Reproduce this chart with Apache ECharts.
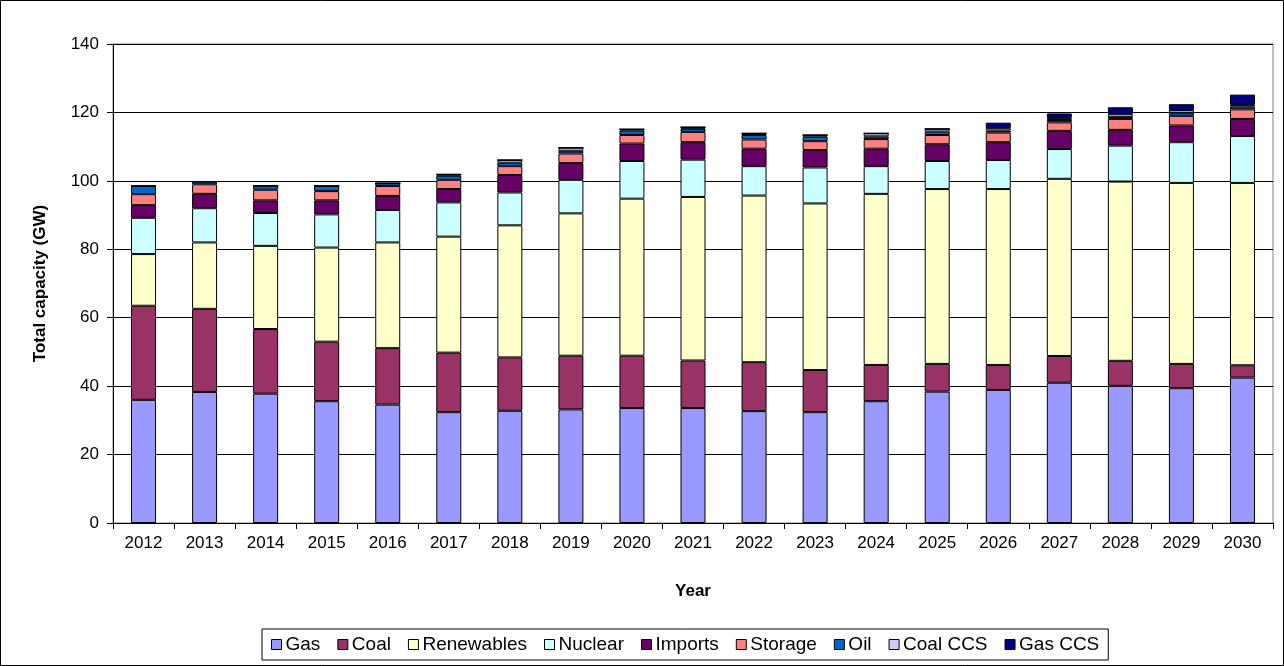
<!DOCTYPE html>
<html>
<head>
<meta charset="utf-8">
<script src="https://cdn.jsdelivr.net/npm/echarts@6/dist/echarts.min.js"></script>
<style>
html,body{margin:0;padding:0;background:#fff;}
#chart{width:1284px;height:666px;}
</style>
</head>
<body>
<div id="chart"></div>
<script>
var years = ['2012','2013','2014','2015','2016','2017','2018','2019','2020','2021','2022','2023','2024','2025','2026','2027','2028','2029','2030'];
var gas        = [36.0,38.3,37.8,35.6,34.6,32.4,32.8,33.2,33.6,33.6,32.7,32.4,35.6,38.4,38.9,41.0,40.1,39.4,42.5];
var coal       = [27.5,24.3,18.9,17.4,16.5,17.4,15.6,15.7,15.3,13.9,14.3,12.3,10.6,8.1,7.3,7.8,7.3,7.1,3.6];
var renewables = [15.1,19.4,24.3,27.5,30.9,33.9,38.6,41.6,45.9,47.8,48.7,48.7,50.0,51.1,51.4,51.8,52.4,52.9,53.3];
var nuclear    = [10.6,10.0,9.6,9.7,9.5,10.0,9.6,9.8,11.0,10.9,8.6,10.5,8.1,8.2,8.5,8.7,10.5,11.9,13.7];
var imports    = [3.7,4.2,3.7,4.1,4.1,3.9,5.1,4.9,5.1,5.1,5.1,5.1,5.1,4.9,5.2,5.3,4.6,4.9,5.0];
var storage    = [3.2,2.8,3.1,2.7,2.9,2.7,2.6,2.8,2.5,3.0,2.7,2.6,2.8,2.7,2.8,2.5,3.2,2.8,2.8];
var oil        = [2.4,0.8,1.2,1.5,0.8,1.2,1.0,0.8,1.3,0.9,1.3,1.3,0.8,1.0,0.6,0.7,0.6,0.9,0.8];
var coalCCS    = [0,0,0,0,0,0.4,0.8,0.9,0.4,0.5,0.5,0.5,0.9,0.8,0.7,0.6,0.8,0.8,0.5];
var gasCCS     = [0,0,0,0,0,0,0,0,0,0,0,0,0,0,1.6,1.3,2.0,1.7,3.0];
var yTicks = [0,20,40,60,80,100,120,140];

var seriesDefs = [
  ['Gas', gas, '#9999FF'],
  ['Coal', coal, '#993366'],
  ['Renewables', renewables, '#FFFFCC'],
  ['Nuclear', nuclear, '#CCFFFF'],
  ['Imports', imports, '#660066'],
  ['Storage', storage, '#FF8080'],
  ['Oil', oil, '#0066CC'],
  ['Coal CCS', coalCCS, '#CCCCFF'],
  ['Gas CCS', gasCCS, '#000080']
];

var FONT = '"Liberation Sans", Arial, sans-serif';
var chart = echarts.init(document.getElementById('chart'), null, {renderer:'canvas'});
chart.setOption({
  animation: false,
  backgroundColor: '#ffffff',
  textStyle: {fontFamily: FONT, color: '#000'},
  graphic: [{
    type: 'rect', silent: true,
    shape: {x: 0.5, y: 0.5, width: 1283, height: 665},
    style: {fill: 'none', stroke: '#000', lineWidth: 1}
  }],
  grid: {left: 113, right: 11, top: 44, bottom: 143, show: true, borderColor: '#808080', borderWidth: 1, backgroundColor: 'transparent'},
  legend: {
    bottom: 6, left: 262,
    itemWidth: 10, itemHeight: 10, itemGap: 17,
    padding: [6, 9, 6, 9],
    borderColor: '#000', borderWidth: 1,
    textStyle: {fontFamily: FONT, fontSize: 19, color: '#000', padding: [0,0,0,-1]},
    icon: 'rect',
    data: seriesDefs.map(function(s){ return {name: s[0], itemStyle: {borderColor: '#000', borderWidth: 1}}; })
  },
  xAxis: {
    type: 'category', data: years,
    name: 'Year', nameLocation: 'middle', nameGap: 60,
    nameTextStyle: {fontFamily: FONT, fontSize: 17, fontWeight: 'bold', color: '#000'},
    axisLine: {lineStyle: {color: '#000', width: 1}},
    axisTick: {show: true, length: 6, lineStyle: {color: '#000'}},
    axisLabel: {fontFamily: FONT, fontSize: 17, color: '#000', margin: 12, interval: 0},
    splitLine: {show: false}
  },
  yAxis: {
    type: 'value', min: 0, max: 140, interval: 20,
    name: 'Total capacity (GW)', nameLocation: 'middle', nameGap: 64,
    nameTextStyle: {fontFamily: FONT, fontSize: 17, fontWeight: 'bold', color: '#000'},
    axisLine: {show: true, lineStyle: {color: '#000', width: 1}},
    axisTick: {show: true, length: 6, lineStyle: {color: '#000'}},
    axisLabel: {fontFamily: FONT, fontSize: 17, color: '#000', margin: 14,
      formatter: function(v){ return yTicks.indexOf(v) >= 0 ? String(v) : ''; }},
    splitLine: {show: true, lineStyle: {color: '#000', width: 1}}
  },
  series: seriesDefs.map(function(s){
    return {
      name: s[0], type: 'bar', stack: 'total', data: s[1],
      barWidth: 25,
      itemStyle: {color: s[2], borderColor: '#000', borderWidth: 1}
    };
  })
});
</script>
</body>
</html>
